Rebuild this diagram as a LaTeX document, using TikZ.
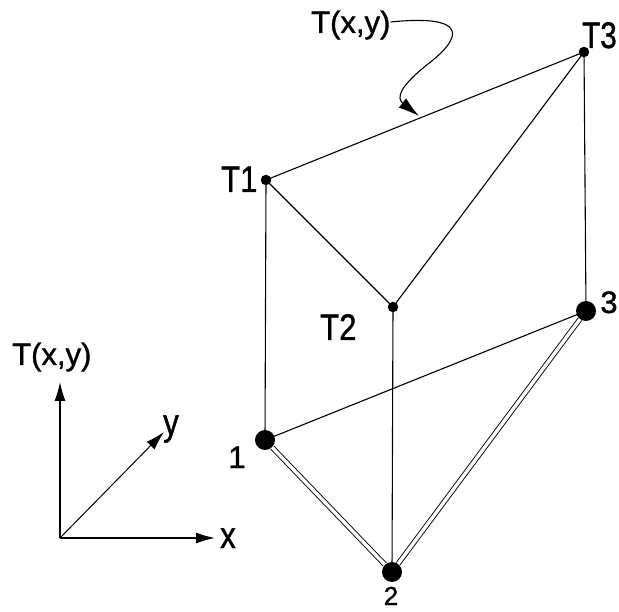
\documentclass[tikz,border=0pt]{standalone}
\usepackage{fontspec}
\setmainfont{Liberation Sans}
\newfontfamily\lblfont[FakeBold=1.2]{Liberation Sans}
\usetikzlibrary{arrows.meta}
\newcommand{\narrowtxt}[1]{\scalebox{0.84}[1]{#1}}
\begin{document}
\begin{tikzpicture}[x=1pt,y=-1pt,
  tlbl/.style={inner sep=0pt,anchor=base west,font=\lblfont\fontsize{37}{37}\selectfont},
  lbl/.style={inner sep=0pt,anchor=base west,font=\lblfont\fontsize{31}{31}\selectfont},
  numlbl/.style={inner sep=0pt,anchor=base,font=\lblfont\fontsize{31}{31}\selectfont},
  small/.style={circle,fill=black,inner sep=0pt,minimum size=10.5pt},
  big/.style={circle,fill=black,inner sep=0pt,minimum size=20pt},
  edge/.style={line width=1.1pt},
  dbl/.style={line width=0.9pt,double=white,double distance=3.4pt},
  axis/.style={line width=1.3pt,-{Latex[length=19pt,width=11pt]}}]
\useasboundingbox (0,0) rectangle (619,612);
% points
\node[small] (T1) at (266,180) {};
\node[small] (T2) at (393,307) {};
\node[small] (T3) at (584,52) {};
\node[big] (n1) at (265,440) {};
\node[big] (n2) at (392,572) {};
\node[big] (n3) at (586,311) {};
% labels
\node[tlbl] (lT1) at (221,192) {\narrowtxt{T1}};
\node[tlbl] (lT2) at (320,340) {\narrowtxt{T2}};
\node[tlbl] (lT3) at (582,48) {\scalebox{0.8}[1]{T3}};
\node[numlbl] (l1) at (237,468) {1};
\node[numlbl,font=\lblfont\fontsize{26}{26}\selectfont] (l2) at (391,605) {2};
\node[numlbl] (l3) at (609,313) {3};
\node[lbl] (lT) at (311,33) {T(x,y)};
% edges
\draw[edge] (T1.center) -- (T3.center);
\draw[edge] (T1.center) -- (T2.center);
\draw[edge] (T2.center) -- (T3.center);
\draw[edge] (T1.center) -- (n1.center);
\draw[edge] (T2.center) -- (n2.center);
\draw[edge] (T3.center) -- (n3.center);
\draw[edge] (n1.center) -- (n3.center);
\draw[dbl] (n1) -- (n2);
\draw[dbl] (n2) -- (n3);
% curved pointer
\coordinate (tip) at (419,116);
\draw[line width=1.1pt,-{Latex[length=21pt,width=12pt]}] (lT.east |- 0,22) .. controls (470,14) and (462,38) .. (428,64) .. controls (400,86) and (396,98) .. (tip);
% axes
\coordinate (O) at (60,538);
\coordinate (Ay) at (60,382);
\coordinate (Ax) at (215,538);
\coordinate (Ad) at (164,432);
\draw[axis] (O) -- (Ay);
\draw[axis] (O) -- (Ax);
\draw[axis,line width=1pt] (O) -- (Ad);
\node[lbl] (lTxy) at (12,365) {T(x,y)};
\node[tlbl] (lx) at (220,548) {\narrowtxt{x}};
\node[tlbl] (ly) at (163,435) {\narrowtxt{y}};
\end{tikzpicture}
\end{document}
